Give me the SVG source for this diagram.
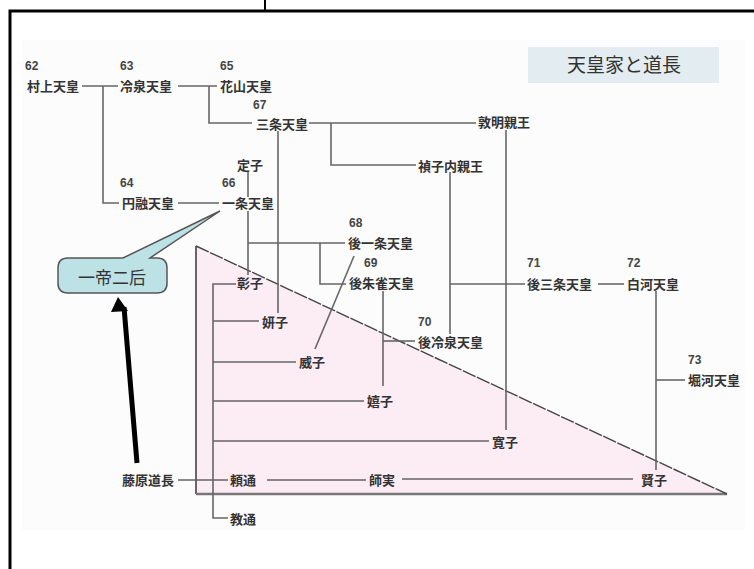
<svg xmlns="http://www.w3.org/2000/svg" width="754" height="569" viewBox="0 0 754 569">
<style>
.t{font-family:"Noto Sans CJK JP","Noto Sans CJK SC",sans-serif;font-size:13px;font-weight:bold;fill:#333}
.n{font-family:"Liberation Sans","DejaVu Sans",sans-serif;font-size:12px;font-weight:bold;fill:#444}
.ln{fill:none;stroke:#666;stroke-width:1.6}
</style>
<rect x="0" y="0" width="754" height="569" fill="#fff"/>
<rect x="22" y="40" width="723" height="490" fill="#fcfcfc"/>
<rect x="10" y="11" width="770" height="600" fill="none" stroke="#000" stroke-width="3"/>
<line x1="265" y1="0" x2="265" y2="10" stroke="#000" stroke-width="2"/>

<g id="title">
<rect x="528" y="47" width="191" height="36" fill="#e3edf1"/>
<text x="624" y="72" text-anchor="middle" style="font-family:'Noto Sans CJK JP',sans-serif;font-size:19px;fill:#333">天皇家と道長</text>
</g>

<g id="triangle">
<path d="M196,246 L727,494 L196,494 Z" fill="#fcecf4" stroke="none"/>
<path d="M196,494 L196,246" stroke="#666" stroke-width="2" fill="none"/>
<path d="M196,494 L727,494" stroke="#777" stroke-width="2.5" fill="none"/>
<path d="M196,246 L727,494" stroke="#444" stroke-width="1.4" stroke-dasharray="14,1.5" fill="none"/>
</g>

<g id="connectors">
<path class="ln" d="M82,86 H118"/>
<path class="ln" d="M103,86 V203 H119"/>
<path class="ln" d="M178,86 H217"/>
<path class="ln" d="M209,86 V123 H252"/>
<path class="ln" d="M309,123 H476"/>
<path class="ln" d="M331,123 V165 H416"/>
<path class="ln" d="M278,131 V313"/>
<path class="ln" d="M506,130 V430"/>
<path class="ln" d="M450,172 V334"/>
<path class="ln" d="M450,284 H525"/>
<path class="ln" d="M598,284 H624"/>
<path class="ln" d="M656,291 V470"/>
<path class="ln" d="M656,380 H685"/>
<path class="ln" d="M178,203 H219"/>
<path class="ln" d="M248,172 V197"/>
<path class="ln" d="M248,211 V275"/>
<path class="ln" d="M248,243 H345"/>
<path class="ln" d="M320,243 V284 H346"/>
<path class="ln" d="M354,256 L315,349"/>
<path class="ln" d="M383,291 V386"/>
<path class="ln" d="M383,341 H415"/>
<path class="ln" d="M236,284 H213 V518 H228"/>
<path class="ln" d="M213,321 H259"/>
<path class="ln" d="M213,362 H296"/>
<path class="ln" d="M213,401 H364"/>
<path class="ln" d="M213,441 H489"/>
<path class="ln" d="M178,480 H228"/>
<path class="ln" d="M267,480 H366"/>
<path class="ln" d="M402,479 H633"/>
<path d="M137,463 L124,307" stroke="#000" stroke-width="5" fill="none"/>
<path d="M118,297 L111,312 L128,311 Z" fill="#000"/>
</g>

<g id="callout">
<path d="M68,258 L123,258 L220,211 L150,258 L157,258 Q167,258 167,268 L167,283 Q167,293 157,293 L68,293 Q58,293 58,283 L58,268 Q58,258 68,258 Z" fill="#bde2e6" stroke="#555" stroke-width="1.5"/>
<text x="112" y="284" text-anchor="middle" style="font-family:'Noto Sans CJK JP',sans-serif;font-size:17px;fill:#333">一帝二后</text>
</g>

<g id="n62"><text class="n" x="25" y="70">62</text><text class="t" x="27" y="91">村上天皇</text></g>
<g id="n63"><text class="n" x="120" y="70">63</text><text class="t" x="120" y="91">冷泉天皇</text></g>
<g id="n65"><text class="n" x="220" y="70">65</text><text class="t" x="220" y="91">花山天皇</text></g>
<g id="n67"><text class="n" x="253" y="109">67</text><text class="t" x="256" y="129">三条天皇</text></g>
<g id="atsuakira"><text class="t" x="478" y="127">敦明親王</text></g>
<g id="teishi-naishinno"><text class="t" x="418" y="171">禎子内親王</text></g>
<g id="teishi"><text class="t" x="237" y="170">定子</text></g>
<g id="n64"><text class="n" x="120" y="187">64</text><text class="t" x="122" y="208">円融天皇</text></g>
<g id="n66"><text class="n" x="222" y="187">66</text><text class="t" x="222" y="208">一条天皇</text></g>
<g id="n68"><text class="n" x="349" y="227">68</text><text class="t" x="348" y="248">後一条天皇</text></g>
<g id="n69"><text class="n" x="364" y="267">69</text><text class="t" x="349" y="288">後朱雀天皇</text></g>
<g id="shoshi"><text class="t" x="237" y="288">彰子</text></g>
<g id="n71"><text class="n" x="527" y="267">71</text><text class="t" x="527" y="289">後三条天皇</text></g>
<g id="n72"><text class="n" x="627" y="267">72</text><text class="t" x="627" y="289">白河天皇</text></g>
<g id="kenshi"><text class="t" x="262" y="327">妍子</text></g>
<g id="n70"><text class="n" x="418" y="326">70</text><text class="t" x="418" y="347">後冷泉天皇</text></g>
<g id="n73"><text class="n" x="688" y="364">73</text><text class="t" x="688" y="385">堀河天皇</text></g>
<g id="ishi"><text class="t" x="299" y="367">威子</text></g>
<g id="kishi"><text class="t" x="367" y="406">嬉子</text></g>
<g id="kanshi"><text class="t" x="492" y="447">寛子</text></g>
<g id="michinaga"><text class="t" x="122" y="485">藤原道長</text></g>
<g id="yorimichi"><text class="t" x="230" y="485">頼通</text></g>
<g id="morozane"><text class="t" x="369" y="485">師実</text></g>
<g id="kenshi2"><text class="t" x="641" y="485">賢子</text></g>
<g id="norimichi"><text class="t" x="230" y="524">教通</text></g>
</svg>
